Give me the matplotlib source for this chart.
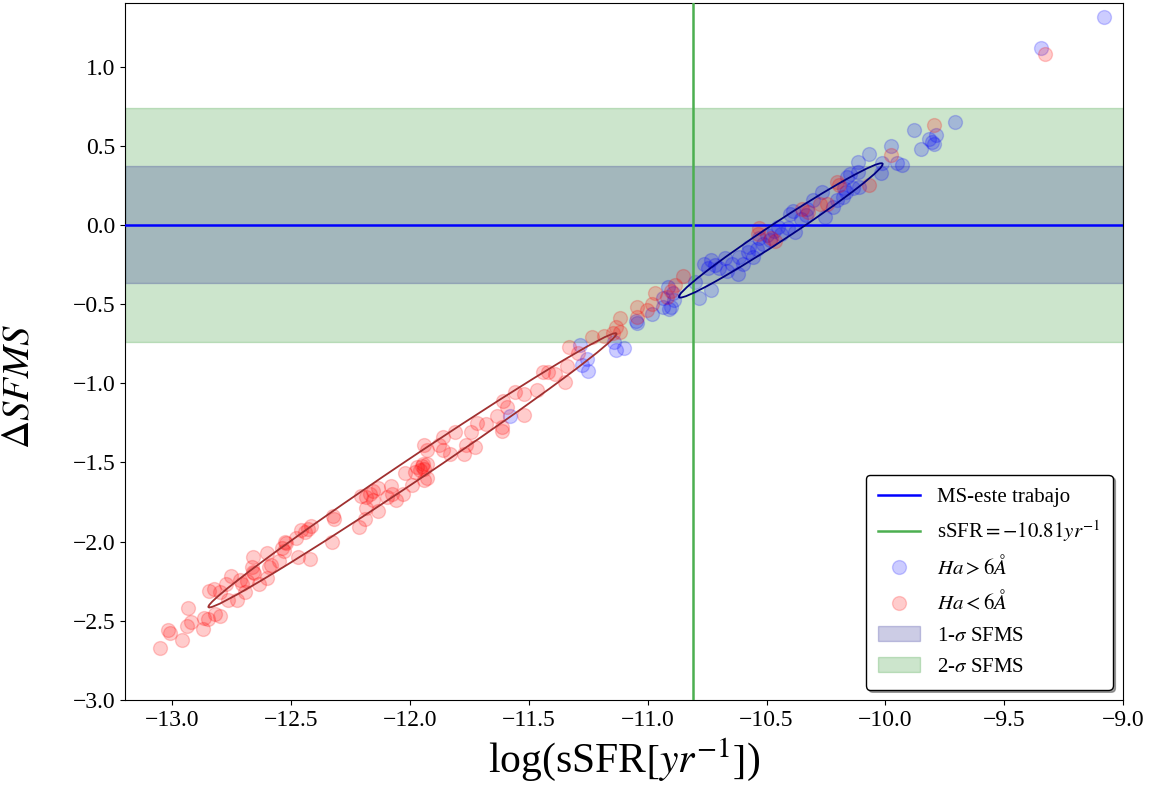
import matplotlib
matplotlib.use("Agg")
import matplotlib.pyplot as plt
from matplotlib.patches import Ellipse, Patch
from matplotlib.lines import Line2D

plt.rcParams['font.family'] = ['Liberation Serif', 'DejaVu Serif']
plt.rcParams['mathtext.fontset'] = 'stix'

# Ha < 6A (red)
red_x = [-13.05, -13.02, -13.01, -12.96, -12.935, -12.94, -12.92, -12.87, -12.865, -12.85,
         -12.82, -12.80, -12.845, -12.825, -12.80, -12.765, -12.73, -12.775, -12.755, -12.695,
         -12.705, -12.66, -12.665, -12.655, -12.635, -12.60, -12.715, -12.685, -12.585, -12.55,
         -12.66, -12.60, -12.595, -12.53, -12.52, -12.525, -12.54, -12.48, -12.47, -12.42,
         -12.46, -12.43, -12.415, -12.44, -12.33, -12.325, -12.32, -12.215, -12.19, -12.185,
         -12.205, -12.185, -12.17, -12.155, -12.135, -12.135, -12.08, -12.075, -12.06, -12.095,
         -12.155, -12.03, -12.02, -11.99, -11.98, -11.95, -11.94, -11.93, -11.97, -11.945,
         -11.94, -11.93, -11.96, -11.93, -11.94, -11.88, -11.86, -11.86, -11.83, -11.81,
         -11.775, -11.765, -11.745, -11.725, -11.72, -11.68, -11.635, -11.615, -11.615, -11.61,
         -11.59, -11.56, -11.52, -11.52, -11.465, -11.44, -11.42, -11.39, -11.35, -11.33,
         -11.34, -11.295, -11.235, -11.185, -11.135, -11.115, -11.115, -11.145, -11.045, -11.045,
         -11.005, -10.98, -10.97, -10.92, -10.90, -10.885, -10.85, -10.53, -10.535, -10.48,
         -10.465, -10.35, -10.325, -10.275, -10.245, -10.205, -10.195, -10.07, -9.975, -9.795,
         -9.327]
red_y = [-2.67, -2.56, -2.58, -2.62, -2.42, -2.53, -2.51, -2.55, -2.485, -2.49,
         -2.46, -2.47, -2.31, -2.30, -2.32, -2.37, -2.37, -2.27, -2.22, -2.32,
         -2.27, -2.19, -2.16, -2.20, -2.27, -2.23, -2.24, -2.25, -2.15, -2.12,
         -2.10, -2.07, -2.16, -2.06, -2.01, -2.00, -2.04, -1.98, -2.10, -2.11,
         -1.93, -1.92, -1.90, -1.94, -2.00, -1.84, -1.86, -1.91, -1.855, -1.79,
         -1.71, -1.72, -1.70, -1.74, -1.66, -1.81, -1.65, -1.70, -1.74, -1.72,
         -1.68, -1.70, -1.57, -1.64, -1.56, -1.52, -1.61, -1.51, -1.53, -1.51,
         -1.54, -1.60, -1.55, -1.42, -1.39, -1.39, -1.34, -1.42, -1.45, -1.31,
         -1.45, -1.39, -1.31, -1.40, -1.25, -1.26, -1.21, -1.275, -1.30, -1.11,
         -1.15, -1.055, -1.065, -1.20, -1.04, -0.93, -0.93, -0.94, -0.99, -0.77,
         -0.89, -0.81, -0.71, -0.70, -0.645, -0.59, -0.675, -0.685, -0.52, -0.58,
         -0.54, -0.50, -0.43, -0.455, -0.42, -0.38, -0.32, -0.02, -0.055, -0.08,
         -0.10, 0.10, 0.08, 0.13, 0.13, 0.27, 0.25, 0.25, 0.44, 0.63,
         1.08]

# Ha > 6A (blue)
blue_x = [-11.58, -11.285, -11.255, -11.275, -11.25, -11.14, -11.135, -11.10, -11.05, -10.98,
          -10.935, -10.91, -10.915, -10.895, -10.89, -10.935, -10.90, -11.045, -10.785, -10.735,
          -10.80, -10.765, -10.735, -10.745, -10.70, -10.665, -10.645, -10.62, -10.615, -10.58,
          -10.575, -10.555, -10.54, -10.515, -10.50, -10.45, -10.44, -10.41, -10.38, -10.40,
          -10.39, -10.355, -10.33, -10.305, -10.265, -10.22, -10.205, -10.18, -10.165, -10.15,
          -10.115, -10.07, -10.135, -10.11, -10.02, -10.015, -9.95, -9.93, -9.975, -9.88,
          -9.85, -9.815, -9.805, -9.785, -9.795, -9.705, -9.347, -9.082, -10.486, -10.335,
          -10.255, -10.16, -10.115, -10.175, -10.715, -10.675, -10.60, -10.53, -10.47]
blue_y = [-1.21, -0.76, -0.845, -0.885, -0.92, -0.74, -0.79, -0.78, -0.61, -0.56,
          -0.52, -0.53, -0.39, -0.43, -0.475, -0.465, -0.52, -0.62, -0.465, -0.41,
          -0.36, -0.245, -0.225, -0.275, -0.27, -0.29, -0.245, -0.31, -0.20, -0.17,
          -0.14, -0.20, -0.15, -0.12, -0.066, -0.014, -0.055, -0.02, -0.045, 0.07,
          0.09, 0.04, 0.10, 0.155, 0.21, 0.11, 0.155, 0.175, 0.21, 0.32,
          0.40, 0.45, 0.23, 0.24, 0.33, 0.39, 0.39, 0.375, 0.50, 0.60,
          0.48, 0.545, 0.525, 0.565, 0.51, 0.65, 1.12, 1.315, -0.098, 0.06,
          0.05, 0.30, 0.333, 0.23, -0.255, -0.21, -0.25, -0.08, -0.04]

ms_line = 0.0
ssfr_cut = -10.81
sigma1 = 0.37
sigma2 = 0.74

# ellipses: (center x, center y, length, thickness, angle)
red_ell = (-11.99, -1.55, 2.436, 0.12, 45.25)
blue_ell = (-10.44, -0.035, 1.202, 0.10, 44.7)

fig = plt.figure(figsize=(11.56, 7.90), dpi=100)
ax = fig.add_axes([0.108, 0.114, 0.8635, 0.882])

ax.axhspan(-sigma2, sigma2, color='green', alpha=0.2, zorder=0)
ax.axhspan(-sigma1, sigma1, color='navy', alpha=0.2, zorder=0)

ax.scatter(blue_x, blue_y, s=100, color='blue', alpha=0.2, zorder=2)
ax.scatter(red_x, red_y, s=100, color='red', alpha=0.2, zorder=2)

ax.axhline(ms_line, color='blue', lw=1.8, zorder=3)
ax.axvline(ssfr_cut, color='#4caf50', lw=1.8, zorder=3)

for (cx, cy, w, h, ang), col in [(red_ell, '#a03030'), (blue_ell, 'navy')]:
    ax.add_patch(Ellipse((cx, cy), w, h, angle=ang, fill=False, edgecolor=col, lw=1.3, zorder=4))

ax.set_xlim(-13.2, -9.0)
ax.set_ylim(-3.0, 1.40)
ax.set_xticks([-13.0, -12.5, -12.0, -11.5, -11.0, -10.5, -10.0, -9.5, -9.0])
ax.set_yticks([-3.0, -2.5, -2.0, -1.5, -1.0, -0.5, 0.0, 0.5, 1.0])
ax.tick_params(labelsize=17)

ax.set_xlabel(r'log(sSFR$[yr^{-1}]$)', fontsize=30)
ax.set_ylabel(r'$\Delta SFMS$', fontsize=28)
ax.yaxis.set_label_coords(-0.088, 0.45)

handles = [
    Line2D([], [], color='blue', lw=1.8),
    Line2D([], [], color='#4caf50', lw=1.8),
    Line2D([], [], marker='o', ls='', color='blue', alpha=0.2, markersize=10),
    Line2D([], [], marker='o', ls='', color='red', alpha=0.2, markersize=10),
    Patch(facecolor='navy', edgecolor='navy', alpha=0.2),
    Patch(facecolor='green', edgecolor='green', alpha=0.2),
]
labels = ['MS-este trabajo', r'sSFR$=-10.81yr^{-1}$', r'$Ha>6\AA$', r'$Ha<6\AA$',
          r'1-$\sigma$ SFMS', r'2-$\sigma$ SFMS']
leg = ax.legend(handles, labels, loc='lower right', fontsize=15, shadow=True,
                fancybox=True, labelspacing=0.55, borderpad=0.6)
leg.get_frame().set_edgecolor('black')
leg.get_frame().set_alpha(1)

fig.savefig('out.png', dpi=100)
